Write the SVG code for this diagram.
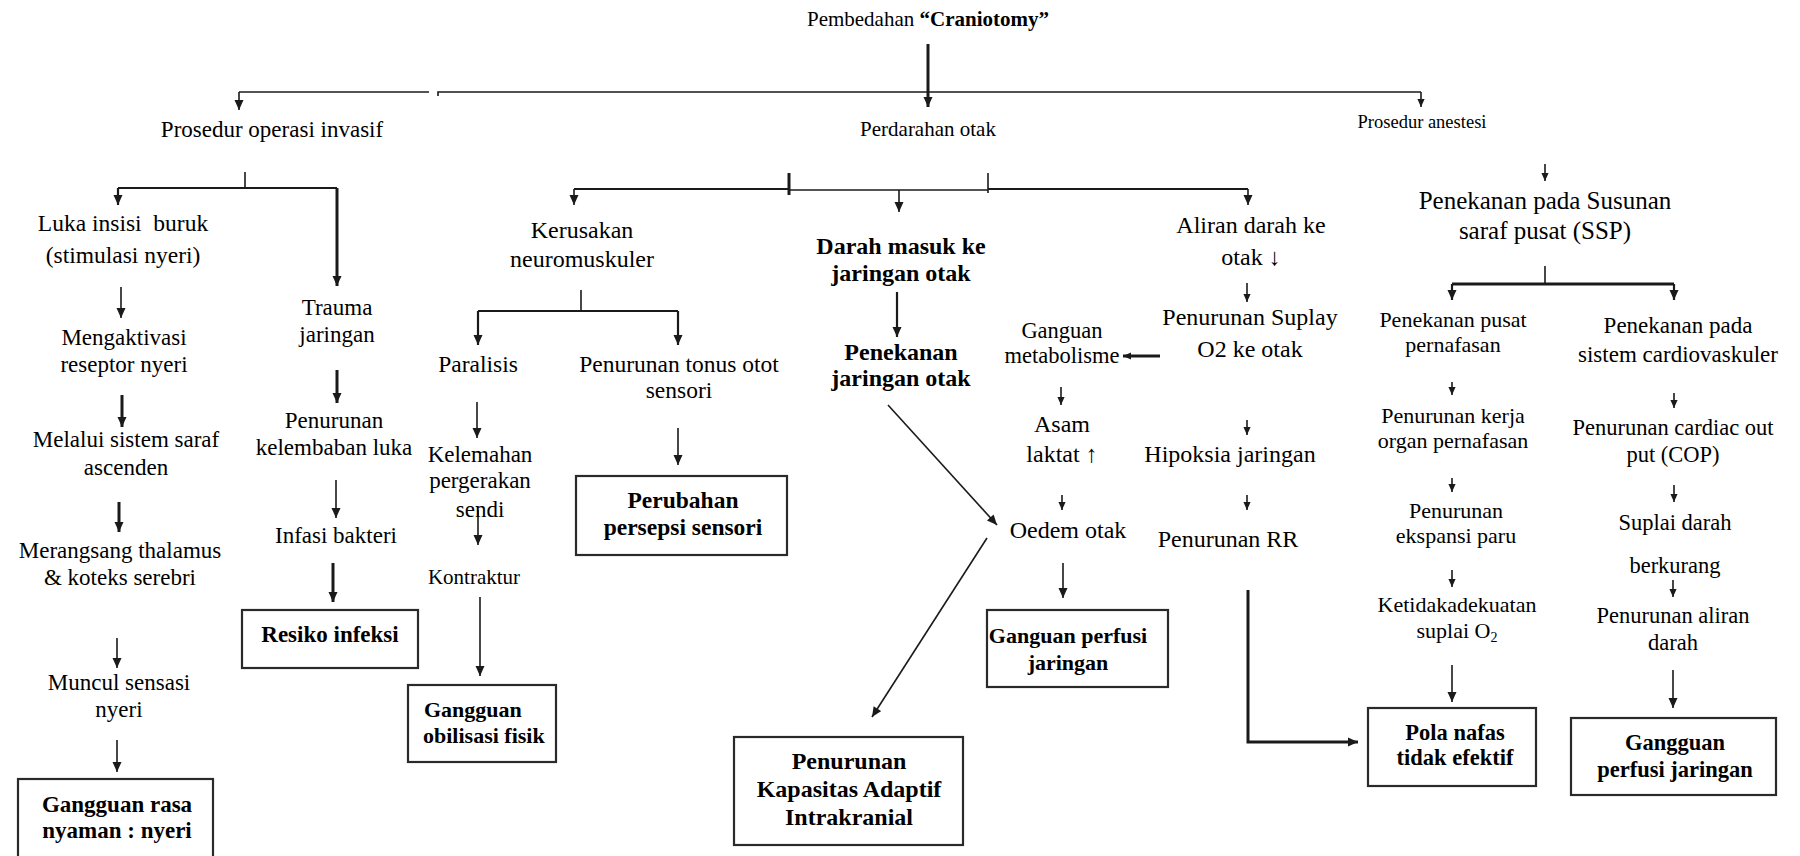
<svg xmlns="http://www.w3.org/2000/svg" width="1800" height="856" viewBox="0 0 1800 856">
<style>
text{font-family:"Liberation Serif","Times New Roman",serif;fill:#000;text-anchor:middle}
.b{font-weight:bold}
.s18{font-size:18.5px}.s21{font-size:21px}.s22{font-size:22px}.s225{font-size:22.5px}.s23{font-size:23px}.s235{font-size:23.5px}.s24{font-size:24px}.s25{font-size:25px}
.ln{stroke:#1a1a1a;stroke-width:1.6;fill:none}
.md{stroke:#1a1a1a;stroke-width:2.2;fill:none}
.tk{stroke:#1a1a1a;stroke-width:3;fill:none}
.box{fill:#fff;stroke:#2a2a2a;stroke-width:2.2}
</style>
<defs>
<marker id="ah" viewBox="0 0 10 10" refX="10" refY="5" markerWidth="11" markerHeight="10" markerUnits="userSpaceOnUse" orient="auto"><path d="M0,0.5 L10,5 L0,9.5 z" fill="#1a1a1a"/></marker>
<marker id="as" viewBox="0 0 10 10" refX="10" refY="5" markerWidth="8" markerHeight="8" markerUnits="userSpaceOnUse" orient="auto"><path d="M0,0.5 L10,5 L0,9.5 z" fill="#1a1a1a"/></marker>
</defs>
<rect width="1800" height="856" fill="#fff"/>
<g id="connectors">
<path class="tk" d="M928,44 V107" marker-end="url(#ah)"/>
<path class="ln" d="M239,92 H429"/>
<path class="ln" d="M438,96 V92 H1421"/>
<path class="ln" d="M239,92 V110" marker-end="url(#ah)"/>
<path class="ln" d="M1421,92 V107" marker-end="url(#as)"/>
<path class="ln" d="M245,172 V188"/>
<path class="md" d="M118,188 H337"/>
<path class="md" d="M118,188 V205" marker-end="url(#ah)"/>
<path class="tk" d="M337,188 V286" marker-end="url(#ah)"/>
<path class="ln" d="M121,287 V318" marker-end="url(#ah)"/>
<path class="tk" d="M122,395 V427" marker-end="url(#ah)"/>
<path class="tk" d="M119,502 V532" marker-end="url(#ah)"/>
<path class="ln" d="M117,638 V668" marker-end="url(#ah)"/>
<path class="ln" d="M117,740 V772" marker-end="url(#ah)"/>
<path class="tk" d="M337,370 V403" marker-end="url(#ah)"/>
<path class="ln" d="M336,480 V518" marker-end="url(#ah)"/>
<path class="tk" d="M333,563 V602" marker-end="url(#ah)"/>
<path class="md" d="M574,189 H789"/>
<path class="ln" d="M789,190 H988"/>
<path class="md" d="M988,189 H1248"/>
<path class="tk" d="M789,173 V195"/>
<path class="ln" d="M988,173 V193"/>
<path class="ln" d="M574,189 V205" marker-end="url(#ah)"/>
<path class="ln" d="M899,190 V212" marker-end="url(#ah)"/>
<path class="ln" d="M1248,189 V205" marker-end="url(#ah)"/>
<path class="ln" d="M581,290 V311"/>
<path class="md" d="M478,311 H678"/>
<path class="md" d="M478,311 V345" marker-end="url(#ah)"/>
<path class="md" d="M678,311 V345" marker-end="url(#ah)"/>
<path class="ln" d="M477,402 V438" marker-end="url(#ah)"/>
<path class="ln" d="M478,510 V545" marker-end="url(#ah)"/>
<path class="ln" d="M480,597 V676" marker-end="url(#ah)"/>
<path class="ln" d="M678,428 V465" marker-end="url(#ah)"/>
<path class="md" d="M897,292 V337" marker-end="url(#ah)"/>
<path class="ln" d="M888,405 L997,525" marker-end="url(#ah)"/>
<path class="ln" d="M987,538 L872,717" marker-end="url(#ah)"/>
<path class="ln" d="M1247,283 V302" marker-end="url(#as)"/>
<path class="tk" d="M1160,356 H1123" marker-end="url(#as)"/>
<path class="ln" d="M1061,387 V405" marker-end="url(#as)"/>
<path class="ln" d="M1062,495 V510" marker-end="url(#as)"/>
<path class="ln" d="M1063,563 V598" marker-end="url(#ah)"/>
<path class="ln" d="M1247,420 V435" marker-end="url(#as)"/>
<path class="ln" d="M1247,495 V510" marker-end="url(#as)"/>
<path class="tk" d="M1248,590 V742 H1358" marker-end="url(#ah)"/>
<path class="ln" d="M1545,164 V181" marker-end="url(#as)"/>
<path class="ln" d="M1545,266 V284"/>
<path class="tk" d="M1452,284 H1674"/>
<path class="md" d="M1452,284 V300" marker-end="url(#ah)"/>
<path class="md" d="M1674,284 V300" marker-end="url(#ah)"/>
<path class="ln" d="M1452,382 V395" marker-end="url(#as)"/>
<path class="ln" d="M1452,478 V492" marker-end="url(#as)"/>
<path class="ln" d="M1452,570 V587" marker-end="url(#as)"/>
<path class="ln" d="M1452,665 V702" marker-end="url(#ah)"/>
<path class="ln" d="M1674,393 V408" marker-end="url(#as)"/>
<path class="ln" d="M1674,485 V502" marker-end="url(#as)"/>
<path class="ln" d="M1673,580 V597" marker-end="url(#as)"/>
<path class="ln" d="M1673,670 V708" marker-end="url(#ah)"/>
</g>
<g id="n-root"><text x="928" y="26" class="s21">Pembedahan <tspan class="b">“Craniotomy”</tspan></text></g>
<g id="n-invasif"><text x="272" y="137" class="s23">Prosedur operasi invasif</text></g>
<g id="n-perdarahan"><text x="928" y="136" class="s21">Perdarahan otak</text></g>
<g id="n-anestesi"><text x="1422" y="128" class="s18">Prosedur anestesi</text></g>
<g id="n-luka" class="s235"><text x="123" y="231">Luka insisi&#160; buruk</text><text x="123" y="263">(stimulasi nyeri)</text></g>
<g id="n-mengaktivasi" class="s23"><text x="124" y="345">Mengaktivasi</text><text x="124" y="372">reseptor nyeri</text></g>
<g id="n-melalui" class="s23"><text x="126" y="447">Melalui sistem saraf</text><text x="126" y="475">ascenden</text></g>
<g id="n-merangsang" class="s23"><text x="120" y="558">Merangsang thalamus</text><text x="120" y="585">&amp; koteks serebri</text></g>
<g id="n-muncul" class="s23"><text x="119" y="690">Muncul sensasi</text><text x="119" y="717">nyeri</text></g>
<g id="n-nyeri"><rect class="box" x="18" y="779" width="195" height="82"/><text x="117" y="812" class="s23 b">Gangguan rasa</text><text x="117" y="838" class="s23 b">nyaman : nyeri</text></g>
<g id="n-trauma" class="s23"><text x="337" y="315">Trauma</text><text x="337" y="342">jaringan</text></g>
<g id="n-kelembaban" class="s23"><text x="334" y="428">Penurunan</text><text x="334" y="455">kelembaban luka</text></g>
<g id="n-infasi"><text x="336" y="543" class="s23">Infasi bakteri</text></g>
<g id="n-infeksi"><rect class="box" x="242" y="610" width="176" height="58"/><text x="330" y="642" class="s23 b">Resiko infeksi</text></g>
<g id="n-kerusakan" class="s24"><text x="582" y="238">Kerusakan</text><text x="582" y="267">neuromuskuler</text></g>
<g id="n-paralisis"><text x="478" y="372" class="s235">Paralisis</text></g>
<g id="n-kelemahan" class="s23"><text x="480" y="462">Kelemahan</text><text x="480" y="488">pergerakan</text><text x="480" y="517">sendi</text></g>
<g id="n-kontraktur"><text x="474" y="584" class="s21">Kontraktur</text></g>
<g id="n-mobilisasi"><rect class="box" x="408" y="685" width="148" height="77"/><text x="424" y="717" class="s22 b" style="text-anchor:start">Gangguan</text><text x="423" y="743" class="s22 b" style="text-anchor:start">obilisasi fisik</text></g>
<g id="n-tonus" class="s235"><text x="679" y="372">Penurunan tonus otot</text><text x="679" y="398">sensori</text></g>
<g id="n-persepsi"><rect class="box" x="576" y="476" width="211" height="79"/><text x="683" y="508" class="s235 b">Perubahan</text><text x="683" y="535" class="s235 b">persepsi sensori</text></g>
<g id="n-darah" class="s24 b"><text x="901" y="254">Darah masuk ke</text><text x="901" y="281">jaringan otak</text></g>
<g id="n-penekanan" class="s24 b"><text x="901" y="360">Penekanan</text><text x="901" y="386">jaringan otak</text></g>
<g id="n-kapasitas" class="s24 b"><rect class="box" x="734" y="737" width="229" height="108"/><text x="849" y="769">Penurunan</text><text x="849" y="797">Kapasitas Adaptif</text><text x="849" y="825">Intrakranial</text></g>
<g id="n-aliran" class="s24"><text x="1251" y="233">Aliran darah ke</text><text x="1251" y="265">otak ↓</text></g>
<g id="n-suplay" class="s24"><text x="1250" y="325">Penurunan Suplay</text><text x="1250" y="357">O2 ke otak</text></g>
<g id="n-metabolisme" class="s225"><text x="1062" y="338">Ganguan</text><text x="1062" y="363">metabolisme</text></g>
<g id="n-asam" class="s24"><text x="1062" y="432">Asam</text><text x="1062" y="462">laktat ↑</text></g>
<g id="n-oedem"><text x="1068" y="538" class="s24">Oedem otak</text></g>
<g id="n-perfusi1"><rect class="box" x="987" y="610" width="181" height="77"/><text x="1068" y="643" class="s22 b">Ganguan perfusi</text><text x="1068" y="670" class="s22 b">jaringan</text></g>
<g id="n-hipoksia"><text x="1230" y="462" class="s24">Hipoksia jaringan</text></g>
<g id="n-rr"><text x="1228" y="547" class="s24">Penurunan RR</text></g>
<g id="n-ssp" class="s25"><text x="1545" y="209">Penekanan pada Susunan</text><text x="1545" y="239">saraf pusat (SSP)</text></g>
<g id="n-pusat" class="s22"><text x="1453" y="327">Penekanan pusat</text><text x="1453" y="352">pernafasan</text></g>
<g id="n-kerja" class="s22"><text x="1453" y="423">Penurunan kerja</text><text x="1453" y="448">organ pernafasan</text></g>
<g id="n-ekspansi" class="s22"><text x="1456" y="518">Penurunan</text><text x="1456" y="543">ekspansi paru</text></g>
<g id="n-ketidak" class="s22"><text x="1457" y="612">Ketidakadekuatan</text><text x="1457" y="638">suplai O<tspan font-size="14" dy="4">2</tspan></text></g>
<g id="n-pola"><rect class="box" x="1368" y="708" width="168" height="78"/><text x="1455" y="740" class="s225 b">Pola nafas</text><text x="1455" y="765" class="s225 b">tidak efektif</text></g>
<g id="n-cardio" class="s23"><text x="1678" y="333">Penekanan pada</text><text x="1678" y="362">sistem cardiovaskuler</text></g>
<g id="n-cop" class="s225"><text x="1673" y="435">Penurunan cardiac out</text><text x="1673" y="462">put (COP)</text></g>
<g id="n-suplai" class="s225"><text x="1675" y="530">Suplai darah</text><text x="1675" y="573">berkurang</text></g>
<g id="n-aliran2" class="s225"><text x="1673" y="623">Penurunan aliran</text><text x="1673" y="650">darah</text></g>
<g id="n-perfusi2"><rect class="box" x="1571" y="718" width="205" height="77"/><text x="1675" y="750" class="s225 b">Gangguan</text><text x="1675" y="777" class="s225 b">perfusi jaringan</text></g>
</svg>
